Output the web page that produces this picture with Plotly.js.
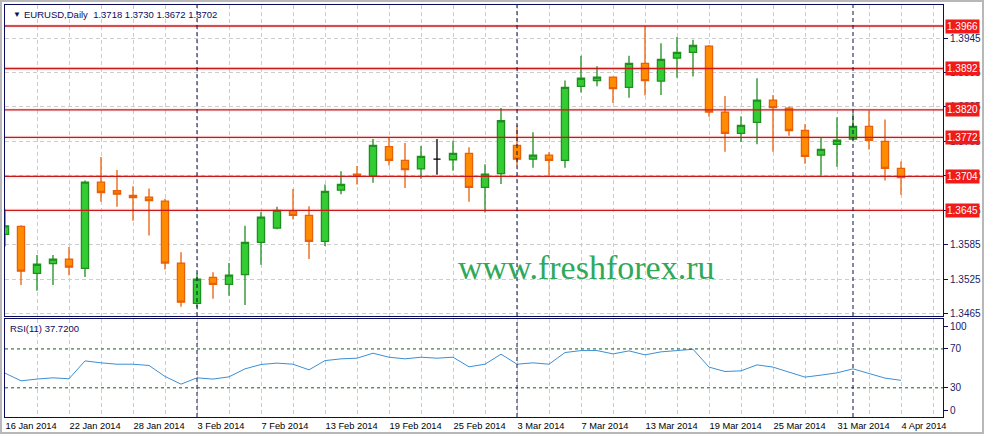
<!DOCTYPE html>
<html><head><meta charset="utf-8">
<script src="https://cdn.plot.ly/plotly-3.0.1.min.js"></script>
<style>
html,body{margin:0;padding:0;background:#fff;overflow:hidden}
#chart{width:985px;height:437px;position:absolute;left:0;top:0}
#frame{position:absolute;left:0;top:0;width:980px;height:430px;border:2px solid #b8b8b8;pointer-events:none}
</style></head><body>
<div id="chart"></div><div id="frame"></div>
<script>
const dates = ['16 Jan 2014','17 Jan 2014','20 Jan 2014','21 Jan 2014','22 Jan 2014','23 Jan 2014','24 Jan 2014','27 Jan 2014','28 Jan 2014','29 Jan 2014','30 Jan 2014','31 Jan 2014',
'3 Feb 2014','4 Feb 2014','5 Feb 2014','6 Feb 2014','7 Feb 2014','10 Feb 2014','11 Feb 2014','12 Feb 2014','13 Feb 2014','14 Feb 2014','17 Feb 2014','18 Feb 2014','19 Feb 2014','20 Feb 2014','21 Feb 2014','24 Feb 2014','25 Feb 2014','26 Feb 2014','27 Feb 2014','28 Feb 2014',
'3 Mar 2014','4 Mar 2014','5 Mar 2014','6 Mar 2014','7 Mar 2014','10 Mar 2014','11 Mar 2014','12 Mar 2014','13 Mar 2014','14 Mar 2014','17 Mar 2014','18 Mar 2014','19 Mar 2014','20 Mar 2014','21 Mar 2014','24 Mar 2014','25 Mar 2014','26 Mar 2014','27 Mar 2014','28 Mar 2014','31 Mar 2014',
'1 Apr 2014','2 Apr 2014','3 Apr 2014','4 Apr 2014'];
const opens  = [1.3603,1.3617,1.3535,1.3552,1.3560,1.3544,1.3694,1.3679,1.3671,1.3668,1.3661,1.3553,
1.3483,1.3528,1.3516,1.3533,1.3589,1.3614,1.3644,1.3636,1.3591,1.3680,1.3708,1.3705,1.3756,1.3732,1.3717,1.3734,1.3733,1.3744,1.3685,1.3709,
1.3758,1.3734,1.3741,1.3732,1.3861,1.3871,1.3877,1.3859,1.3901,1.3870,1.3910,1.3920,1.3931,1.3816,1.3779,1.3798,1.3837,1.3823,1.3784,1.3741,1.3760,
1.3769,1.3791,1.3765,1.3718];
const highs  = [1.3647,1.3619,1.3567,1.3567,1.3581,1.3697,1.3738,1.3715,1.3687,1.3683,1.3665,1.3572,
1.3535,1.3537,1.3553,1.3618,1.3642,1.3651,1.3682,1.3652,1.3690,1.3713,1.3722,1.3769,1.3771,1.3762,1.3757,1.3769,1.3766,1.3755,1.3725,1.3823,
1.3793,1.3781,1.3746,1.3871,1.3914,1.3896,1.3878,1.3914,1.3966,1.3936,1.3947,1.3942,1.3933,1.3844,1.3809,1.3875,1.3846,1.3826,1.3795,1.3772,1.3807,
1.3814,1.3819,1.3803,1.3730];
const lows   = [1.3582,1.3515,1.3505,1.3515,1.3532,1.3529,1.3660,1.3651,1.3627,1.3601,1.3542,1.3477,
1.3476,1.3491,1.3496,1.3480,1.3550,1.3612,1.3629,1.3560,1.3583,1.3673,1.3690,1.3693,1.3723,1.3684,1.3700,1.3707,1.3714,1.3660,1.3641,1.3691,
1.3724,1.3719,1.3705,1.3719,1.3850,1.3861,1.3832,1.3841,1.3845,1.3846,1.3876,1.3878,1.3808,1.3747,1.3764,1.3760,1.3747,1.3775,1.3726,1.3705,1.3721,
1.3767,1.3751,1.3697,1.3672];
const closes = [1.3618,1.3539,1.3551,1.3560,1.3546,1.3694,1.3676,1.3673,1.3667,1.3662,1.3553,1.3485,
1.3525,1.3516,1.3532,1.3589,1.3633,1.3645,1.3636,1.3591,1.3678,1.3690,1.3705,1.3758,1.3732,1.3716,1.3739,1.3734,1.3744,1.3685,1.3708,1.3801,
1.3734,1.3741,1.3732,1.3859,1.3875,1.3877,1.3857,1.3901,1.3871,1.3908,1.3920,1.3932,1.3816,1.3779,1.3793,1.3837,1.3824,1.3784,1.3739,1.3751,1.3767,
1.3791,1.3767,1.3718,1.3702];
const rsi = [45.1,37.2,39.0,40.3,39.3,57.7,55.7,54.3,54.3,53.0,41.7,33.8,
40.3,39.0,41.3,49.5,54.0,55.4,54.3,48.5,58.0,59.8,60.5,65.6,61.5,59.8,61.5,60.5,61.5,51.6,54.3,64.6,
54.3,55.7,54.3,66.3,68.3,68.3,64.9,68.0,63.9,67.0,68.3,69.7,51.3,46.8,47.5,53.6,51.3,46.2,41.0,43.1,45.4,
49.5,45.1,40.0,37.72];
const levels = [1.3966,1.3892,1.3820,1.3772,1.3704,1.3645];
const priceTicks = [1.3465,1.3525,1.3585,1.3645,1.3705,1.3765,1.3825,1.3885,1.3945];
const rsiLevels = [30,70];
const rsiTickVals = [6.8,30,70,92.9];
const rsiTickText = ['0','30','70','100'];
const symbolName = 'EURUSD,Daily';
const rsiName = 'RSI(11)';
const watermark = 'www.freshforex.ru';

const idx = dates.map((d,i)=>i);
const NAVY = '#0c0c5c';
const GRID = '#cdcdcd';
const FONT = 'Liberation Sans, Arial, sans-serif';

const normal = idx.filter(i => opens[i] !== closes[i]);
const doji = idx.filter(i => opens[i] === closes[i]);
const pick = (arr, sel) => sel.map(i => arr[i]);

const traces = [
 {type:'candlestick', x:normal, open:pick(opens,normal), high:pick(highs,normal), low:pick(lows,normal), close:pick(closes,normal),
  xaxis:'x', yaxis:'y', hoverinfo:'skip', showlegend:false, whiskerwidth:0,
  increasing:{line:{color:'#1f8f1f', width:1.3}, fillcolor:'#33cc33'},
  decreasing:{line:{color:'#e8600a', width:1.3}, fillcolor:'#ff8c00'}},
 {type:'candlestick', x:doji, open:pick(opens,doji), high:pick(highs,doji), low:pick(lows,doji), close:pick(closes,doji),
  xaxis:'x', yaxis:'y', hoverinfo:'skip', showlegend:false, whiskerwidth:0,
  increasing:{line:{color:'#000000', width:1.3}, fillcolor:'#000000'},
  decreasing:{line:{color:'#000000', width:1.3}, fillcolor:'#000000'}},
 {type:'scatter', mode:'lines', x:idx, y:rsi, xaxis:'x2', yaxis:'y2', hoverinfo:'skip', showlegend:false,
  line:{color:'#3b8fd6', width:1}}
];

const xTickVals = [];
const xTickText = [];
for (let i = 0; i <= 58; i += 2) { xTickVals.push(i); xTickText.push(i % 4 === 0 && i < dates.length ? dates[i] : ''); }

const shapes = [];
levels.forEach(v => {
  shapes.push({type:'line', xref:'paper', x0:0, x1:1, yref:'y', y0:v, y1:v, line:{color:'rgba(255,80,80,0.10)', width:4}});
  shapes.push({type:'line', xref:'paper', x0:0, x1:1, yref:'y', y0:v, y1:v, line:{color:'#c41a1a', width:1.3}});
});
rsiLevels.forEach(v => {
  shapes.push({type:'line', xref:'paper', x0:0, x1:1, yref:'y2', y0:v, y1:v, line:{color:'#145c14', width:1, dash:'3px,3px'}});
});
const month = d => d.split(' ')[1];
idx.forEach(i => {
  if (i > 0 && month(dates[i]) !== month(dates[i-1])) {
    shapes.push({type:'line', xref:'x', x0:i, x1:i, yref:'y domain', y0:0, y1:1, line:{color:'#101040', width:1, dash:'4px,3px'}});
    shapes.push({type:'line', xref:'x2', x0:i, x1:i, yref:'y2 domain', y0:0, y1:1, line:{color:'#101040', width:1, dash:'4px,3px'}});
  }
});

const last = dates.length - 1;
const annotations = [];
levels.forEach(v => {
  annotations.push({xref:'paper', x:1, xanchor:'left', xshift:2, yref:'y', y:v, yanchor:'middle', showarrow:false,
    text:v.toFixed(4), bgcolor:'#f01a1a', borderpad:1, font:{family:FONT, size:10, color:'#ffffff'}});
});
annotations.push({xref:'paper', x:0, xanchor:'left', xshift:6, yref:'paper', y:1, yanchor:'top', yshift:-3, showarrow:false,
  text:'▼', font:{family:FONT, size:8, color:NAVY}});
annotations.push({xref:'paper', x:0, xanchor:'left', xshift:17, yref:'paper', y:1, yanchor:'top', yshift:-2, showarrow:false,
  text: symbolName + '\u00a0\u00a0' + [opens[last],highs[last],lows[last],closes[last]].map(v=>v.toFixed(4)).join(' '),
  font:{family:FONT, size:9.5, color:NAVY}});
annotations.push({xref:'paper', x:0, xanchor:'left', xshift:3, yref:'y2 domain', y:1, yanchor:'top', yshift:-2, showarrow:false,
  text: rsiName + ' ' + rsi[last].toFixed(4), font:{family:FONT, size:9.5, color:NAVY}});
annotations.push({xref:'paper', x:0.619, xanchor:'center', yref:'paper', y:0.362, yanchor:'middle', showarrow:false,
  text: watermark, font:{family:'Liberation Serif, Times New Roman, serif', size:34, color:'#30a85a'}});

const layout = {
  width:985, height:437,
  margin:{l:5, r:42, t:5, b:20},
  paper_bgcolor:'#ffffff', plot_bgcolor:'#ffffff',
  showlegend:false, boxgap:0.36, boxmode:'overlay',
  xaxis:{domain:[0,1], anchor:'y', range:[0,58.625], tickvals:xTickVals, showticklabels:false, ticks:'',
    showgrid:true, gridcolor:GRID, griddash:'4px,3px', gridwidth:1, zeroline:false,
    showline:true, mirror:true, linecolor:NAVY, linewidth:1, rangeslider:{visible:false}, fixedrange:true},
  yaxis:{domain:[0.2451,1], anchor:'x', side:'right', range:[1.346085,1.400258], tickvals:priceTicks, tickformat:'.4f',
    ticks:'outside', ticklen:4, tickcolor:NAVY, tickfont:{family:FONT, size:10, color:'#1a1a66'},
    showgrid:true, gridcolor:GRID, griddash:'4px,3px', zeroline:false,
    showline:true, mirror:true, linecolor:NAVY, linewidth:1, fixedrange:true},
  xaxis2:{domain:[0,1], anchor:'y2', range:[0,58.625], tickvals:xTickVals, ticktext:xTickText, ticks:'', tickangle:0,
    ticklabelposition:'outside right', tickfont:{family:FONT, size:9.3, color:'#000000'},
    showgrid:true, gridcolor:GRID, griddash:'4px,3px', zeroline:false,
    showline:true, mirror:true, linecolor:NAVY, linewidth:1, fixedrange:true},
  yaxis2:{domain:[0,0.2379], anchor:'x2', side:'right', range:[0,100.8], tickvals:rsiTickVals, ticktext:rsiTickText,
    ticks:'outside', ticklen:4, tickcolor:NAVY, tickfont:{family:FONT, size:10, color:'#1a1a66'},
    showgrid:false, zeroline:false, showline:true, mirror:true, linecolor:NAVY, linewidth:1, fixedrange:true},
  shapes:shapes, annotations:annotations
};
Plotly.newPlot('chart', traces, layout, {staticPlot:true, displayModeBar:false});
</script></body></html>
